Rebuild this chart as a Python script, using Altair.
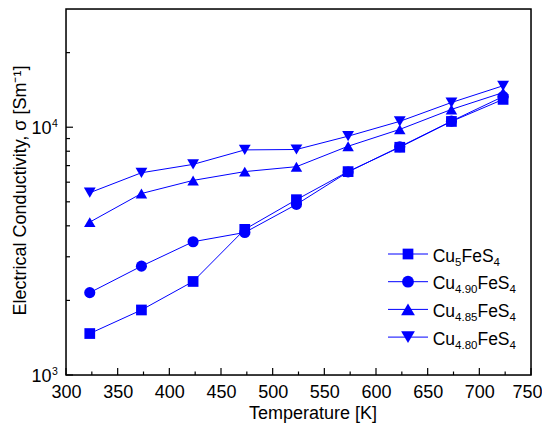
import altair as alt
import pandas as pd

# ---------------- data ----------------
temperature = [323, 373, 423, 473, 523, 573, 623, 673, 723]
series_names = ["Cu5FeS4", "Cu4.90FeS4", "Cu4.85FeS4", "Cu4.80FeS4"]
cu_subscripts = ["5", "4.90", "4.85", "4.80"]
sigma_cu500 = [1470, 1830, 2385, 3870, 5100, 6620, 8300, 10550, 12950]
sigma_cu490 = [2150, 2750, 3450, 3760, 4880, 6600, 8340, 10580, 13300]
sigma_cu485 = [4140, 5400, 6100, 6620, 6930, 8380, 9800, 11800, 13800]
sigma_cu480 = [5440, 6550, 7080, 8100, 8130, 9200, 10560, 12580, 14700]
all_sigma = [sigma_cu500, sigma_cu490, sigma_cu485, sigma_cu480]

x_major_ticks = [300, 350, 400, 450, 500, 550, 600, 650, 700, 750]
x_minor_ticks = [325, 375, 425, 475, 525, 575, 625, 675, 725]
y_major_ticks = [1000, 10000]
y_major_exponents = ["3", "4"]
y_minor_ticks = [2000, 3000, 4000, 5000, 6000, 7000, 8000, 9000, 20000]

shapes = ["square", "circle", "triangle-up", "triangle-down"]
shape_sizes = [115, 140, 190, 190]

BLUE = "#0000FF"
FONT = "Liberation Sans"
W, H = 465, 366
LABEL_FS, TITLE_FS = 18, 18

rows = []
for name, vals in zip(series_names, all_sigma):
    for t, v in zip(temperature, vals):
        rows.append({"T": t, "sigma": v, "series": name})
df = pd.DataFrame(rows)

x_scale = alt.Scale(domain=[300, 750], nice=False, zero=False)
y_scale = alt.Scale(type="log", domain=[1000, 30000], nice=False)
shape_scale = alt.Scale(domain=series_names, range=shapes)
size_scale = alt.Scale(domain=series_names, range=shape_sizes)

x_axis = alt.Axis(
    values=x_major_ticks, grid=False, ticks=False, tickSize=0, domain=False,
    labelFontSize=LABEL_FS, labelColor="black", labelBaseline="alphabetic",
    labelPadding=22.5, labelFlush=False, labelFont=FONT,
    labelOffset={"condition": {"test": "datum.value == 750", "value": -4},
                 "value": 0},
    title="Temperature [K]", titleFontSize=TITLE_FS, titleFontWeight="normal",
    titleColor="black", titleFont=FONT, titleX=246.5, titleY=43,
    titleAlign="center", titleBaseline="alphabetic",
)
y_axis = alt.Axis(
    values=y_major_ticks, grid=False, ticks=False, tickSize=0, domain=False,
    labels=False,
    title="Electrical Conductivity, σ [Sm⁻¹]", titleFontSize=18,
    titleFontWeight="normal", titleColor="black", titleFont=FONT,
    titleX=-41, titleY=181, titleAlign="center", titleBaseline="alphabetic",
    titleAngle=270,
)


def X(field):
    return alt.X(field, scale=x_scale, axis=x_axis)


def Y(field):
    return alt.Y(field, scale=y_scale, axis=y_axis)


lines = alt.Chart(df).mark_line(color=BLUE, strokeWidth=1).encode(
    x=X("T:Q"), y=Y("sigma:Q"), detail="series:N",
)
points = alt.Chart(df).mark_point(filled=True, color=BLUE, opacity=1).encode(
    x=X("T:Q"), y=Y("sigma:Q"),
    shape=alt.Shape("series:N", scale=shape_scale, legend=None),
    size=alt.Size("series:N", scale=size_scale, legend=None),
)

xmaj = pd.DataFrame({"T": x_major_ticks})
xmin = pd.DataFrame({"T": x_minor_ticks})
ymaj = pd.DataFrame({"sigma": y_major_ticks, "e": y_major_exponents})
ymin = pd.DataFrame({"sigma": y_minor_ticks})

TICK_W = 1.2
xmaj_rule = alt.Chart(xmaj).mark_rule(color="black", strokeWidth=TICK_W).encode(
    x=X("T:Q"), y=alt.value(H), y2=alt.value(H - 7))
xmin_rule = alt.Chart(xmin).mark_rule(color="black", strokeWidth=TICK_W).encode(
    x=X("T:Q"), y=alt.value(H), y2=alt.value(H - 3.5))
ymaj_rule = alt.Chart(ymaj).mark_rule(color="black", strokeWidth=TICK_W).encode(
    y=Y("sigma:Q"), x=alt.value(0), x2=alt.value(7))
ymin_rule = alt.Chart(ymin).mark_rule(color="black", strokeWidth=TICK_W).encode(
    y=Y("sigma:Q"), x=alt.value(0), x2=alt.value(4))

ylab_base = alt.Chart(ymaj).mark_text(
    text="10", align="right", baseline="alphabetic", fontSize=LABEL_FS,
    font=FONT, color="black", dy=7).encode(y=Y("sigma:Q"), x=alt.value(-14.5))
ylab_sup = alt.Chart(ymaj).mark_text(
    align="left", baseline="alphabetic", fontSize=10.5, font=FONT,
    color="black").encode(y=Y("sigma:Q"), x=alt.value(-14), text="e:N")

# frame around the plot area
one = alt.Data(values=[{}])
frame = alt.Chart(one).mark_rect(
    fill=None, stroke="black", strokeWidth=1.5).encode(
    x=alt.value(0), x2=alt.value(W), y=alt.value(0), y2=alt.value(H))

layers = [lines, points, xmaj_rule, xmin_rule, ymaj_rule, ymin_rule,
          ylab_base, ylab_sup, frame]

# ---------------- hand-built legend with subscripts ----------------
ARIAL_W = {"C": 0.722, "u": 0.556, "F": 0.611, "e": 0.556, "S": 0.667,
           ".": 0.278}
for d in "0123456789":
    ARIAL_W[d] = 0.556


def text_width(s, size):
    return sum(ARIAL_W.get(c, 0.556) for c in s) * size


MAIN_FS, SUB_FS = 17.5, 11.5
leg_y0, leg_dy = 245, 27.7
line_x1, line_x2, marker_x, text_x0 = 322, 362, 342, 366.7

for i, (name, sub) in enumerate(zip(series_names, cu_subscripts)):
    ry = leg_y0 + i * leg_dy
    layers.append(alt.Chart(one).mark_rule(color=BLUE, strokeWidth=1).encode(
        x=alt.value(line_x1), x2=alt.value(line_x2), y=alt.value(ry)))
    layers.append(alt.Chart(one).mark_point(
        filled=True, color=BLUE, opacity=1, shape=shapes[i],
        size=shape_sizes[i]).encode(x=alt.value(marker_x), y=alt.value(ry)))
    x = text_x0
    for piece, is_sub in [("Cu", False), (sub, True), ("FeS", False), ("4", True)]:
        fs = SUB_FS if is_sub else MAIN_FS
        yy = ry + (11.5 if is_sub else 7.5)
        layers.append(alt.Chart(one).mark_text(
            text=piece, align="left", baseline="alphabetic", fontSize=fs,
            font=FONT, color="black").encode(x=alt.value(x), y=alt.value(yy)))
        x += text_width(piece, fs)

chart = alt.layer(*layers).properties(
    width=W, height=H,
    autosize=alt.AutoSizeParams(type="none"),
    padding={"left": 58, "top": 1, "right": 11, "bottom": 48},
).configure_view(stroke=None).configure(font=FONT)

chart.save("out.html", embed_options={"renderer": "svg", "actions": False})
